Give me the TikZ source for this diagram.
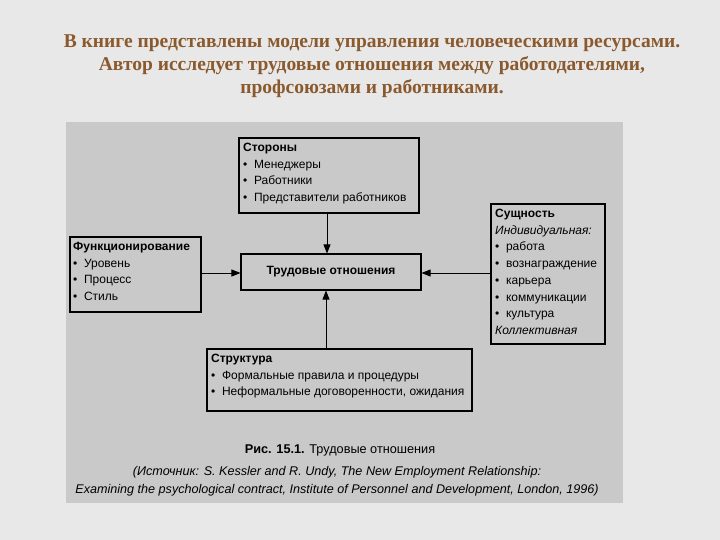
\documentclass[tikz,border=0pt]{standalone}
\usepackage{fontspec}
\setmainfont{Liberation Serif}
\newfontfamily\arial{Liberation Sans}
\usetikzlibrary{arrows.meta}
\definecolor{titlec}{HTML}{8A5A2E}
\definecolor{scan}{HTML}{C9C9C9}
\begin{document}
\begin{tikzpicture}[x=1pt,y=-1pt,
  bx/.style={draw=black,line width=1.1pt,inner sep=0pt},
  lbl/.style={anchor=north west,align=left,font=\arial\fontsize{12}{16.7}\selectfont,inner sep=0pt},
  arr/.style={-{Triangle[length=9pt,width=7pt]},line width=0.8pt},
  ttl/.style={font=\bfseries\fontsize{19.5}{23}\selectfont,text=titlec,align=center}]
\useasboundingbox (0,0) rectangle (720,540);
\fill[gray!18] (0,0) rectangle (720,540);
\fill[scan] (66,122) rectangle (623,503);
\node[ttl] (title) at (372,66) {В книге представлены модели управления человеческими ресурсами.\\Автор исследует трудовые отношения между работодателями,\\профсоюзами и работниками.};
% boxes
\draw[bx] (239,138) rectangle (419,213);
\node[lbl] (st) at (243,143) {\textbf{Стороны}\\ \textbullet\ \ Менеджеры\\ \textbullet\ \ Работники\\ \textbullet\ \ Представители работников};
\coordinate (stb) at (327,213);
\draw[bx] (70,237) rectangle (201,312);
\node[lbl] (fu) at (73,242) {\textbf{Функционирование}\\ \textbullet\ \ Уровень\\ \textbullet\ \ Процесс\\ \textbullet\ \ Стиль};
\coordinate (fur) at (201,273);
\node[bx,minimum width=180pt,minimum height=36pt,font=\arial\bfseries\fontsize{12}{14}\selectfont] (tr) at (331,272) {Трудовые отношения};
\draw[bx] (491,204) rectangle (605,344);
\node[lbl] (su) at (495,209) {\textbf{Сущность}\\ \textit{Индивидуальная:}\\ \textbullet\ \ работа\\ \textbullet\ \ вознаграждение\\ \textbullet\ \ карьера\\ \textbullet\ \ коммуникации\\ \textbullet\ \ культура\\ \textit{Коллективная}};
\coordinate (sul) at (491,273);
\draw[bx] (207,349) rectangle (472,411);
\node[lbl] (sr) at (211,354) {\textbf{Структура}\\ \textbullet\ \ Формальные правила и процедуры\\ \textbullet\ \ Неформальные договоренности, ожидания};
\coordinate (srt) at (326,349);
\draw[arr] (stb) -- (tr.north -| stb);
\draw[arr] (srt) -- (tr.south -| srt);
\draw[arr] (fur) -- (tr.west |- fur);
\draw[arr] (sul) -- (tr.east |- sul);
\node[font=\arial\fontsize{12.7}{14}\selectfont] (cap) at (340,450) {\textbf{Рис. 15.1.} Трудовые отношения};
\node[font=\arial\itshape\fontsize{12.6}{18}\selectfont,align=center] (src) at (337,481) {(Источник: S. Kessler and R. Undy, The New Employment Relationship:\\Examining the psychological contract, Institute of Personnel and Development, London, 1996)};
\end{tikzpicture}
\end{document}
